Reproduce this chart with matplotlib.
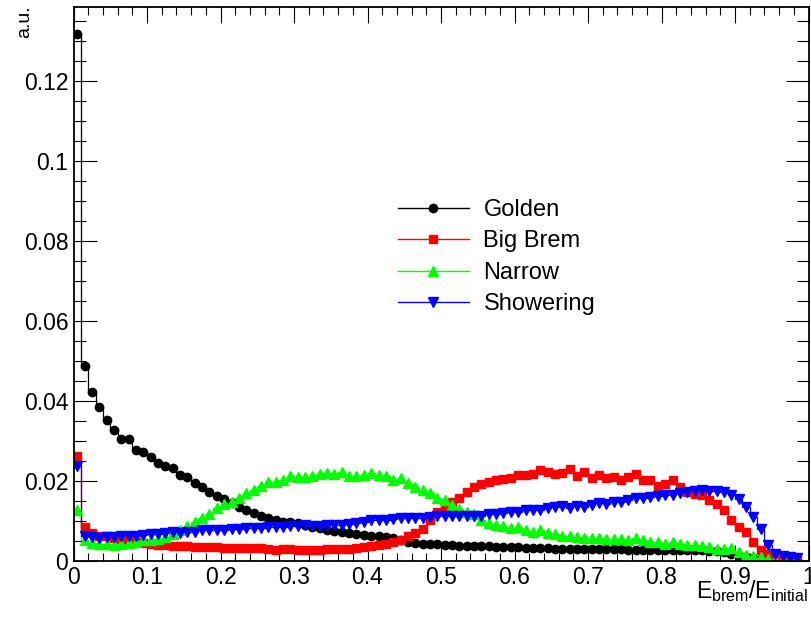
import numpy as np
import matplotlib
matplotlib.use("Agg")
import matplotlib.pyplot as plt
from matplotlib.ticker import MultipleLocator, FuncFormatter
from matplotlib.lines import Line2D

plt.rcParams['font.family'] = ['Liberation Sans', 'DejaVu Sans']
plt.rcParams['mathtext.fontset'] = 'custom'
plt.rcParams['mathtext.rm'] = 'Liberation Sans'

# ---------------- data (100 bins in [0, 1]) ----------------
n_bins = 100
x_lo, x_hi = 0.0, 1.0

labels = ["Golden", "Big Brem", "Narrow", "Showering"]

golden = [0.1317, 0.0488, 0.0423, 0.0384, 0.0353, 0.0328, 0.0305, 0.0305, 0.0278, 0.0273,
          0.0260, 0.0245, 0.0238, 0.0232, 0.0215, 0.0209, 0.0195, 0.0184, 0.0172, 0.0163,
          0.0155, 0.0145, 0.0134, 0.0126, 0.0120, 0.0113, 0.0107, 0.0101, 0.0098, 0.0097,
          0.0095, 0.0090, 0.0085, 0.0081, 0.0078, 0.0075, 0.0072, 0.0070, 0.0067, 0.0065,
          0.0063, 0.0061, 0.0059, 0.0057, 0.0052, 0.0046, 0.0045, 0.0043, 0.0042, 0.0041,
          0.0040, 0.0039, 0.0038, 0.0037, 0.0037, 0.0036, 0.0036, 0.0035, 0.0035, 0.0034,
          0.0034, 0.0033, 0.0032, 0.0031, 0.0031, 0.0030, 0.0030, 0.0030, 0.0030, 0.0030,
          0.0029, 0.0029, 0.0029, 0.0029, 0.0029, 0.0028, 0.0028, 0.0028, 0.0028, 0.0028,
          0.0027, 0.0027, 0.0027, 0.0027, 0.0026, 0.0026, 0.0025, 0.0024, 0.0021, 0.0017,
          0.0013, 0.0009, 0.0006, 0.0004, 0.0002, 0.0001, 0.0, 0.0, 0.0, 0.0]

big_brem = [0.0263, 0.0084, 0.0069, 0.0063, 0.0061, 0.0058, 0.0055, 0.0052, 0.0048, 0.0045,
            0.0043, 0.0040, 0.0039, 0.0038, 0.0038, 0.0037, 0.0035, 0.0034, 0.0034, 0.0034,
            0.0033, 0.0033, 0.0033, 0.0032, 0.0032, 0.0031, 0.0029, 0.0028, 0.0030, 0.0029,
            0.0028, 0.0028, 0.0028, 0.0028, 0.0029, 0.0029, 0.0030, 0.0030, 0.0033, 0.0035,
            0.0037, 0.0040, 0.0043, 0.0047, 0.0053, 0.0063, 0.0070, 0.0080, 0.0101, 0.0122,
            0.0135, 0.0147, 0.0157, 0.0173, 0.0185, 0.0193, 0.0197, 0.0202, 0.0205, 0.0207,
            0.0215, 0.0215, 0.0218, 0.0228, 0.0222, 0.0218, 0.0220, 0.0230, 0.0213, 0.0223,
            0.0207, 0.0215, 0.0207, 0.0209, 0.0203, 0.0209, 0.0218, 0.0201, 0.0201, 0.0188,
            0.0193, 0.0201, 0.0184, 0.0172, 0.0168, 0.0165, 0.0151, 0.0143, 0.0126, 0.0103,
            0.0084, 0.0072, 0.0048, 0.0028, 0.0018, 0.0012, 0.0007, 0.0003, 0.0001, 0.0]

narrow = [0.0126, 0.0051, 0.0045, 0.0043, 0.0043, 0.0040, 0.0043, 0.0045, 0.0047, 0.0051,
          0.0051, 0.0055, 0.0059, 0.0067, 0.0078, 0.0088, 0.0098, 0.0107, 0.0118, 0.0132,
          0.0143, 0.0148, 0.0157, 0.0170, 0.0176, 0.0188, 0.0198, 0.0197, 0.0201, 0.0213,
          0.0209, 0.0209, 0.0212, 0.0218, 0.0220, 0.0218, 0.0222, 0.0213, 0.0212, 0.0215,
          0.0220, 0.0215, 0.0212, 0.0203, 0.0207, 0.0195, 0.0184, 0.0178, 0.0170, 0.0157,
          0.0151, 0.0140, 0.0130, 0.0123, 0.0118, 0.0103, 0.0095, 0.0090, 0.0087, 0.0082,
          0.0084, 0.0076, 0.0072, 0.0076, 0.0070, 0.0067, 0.0063, 0.0062, 0.0059, 0.0057,
          0.0057, 0.0057, 0.0055, 0.0054, 0.0055, 0.0053, 0.0056, 0.0051, 0.0047, 0.0046,
          0.0043, 0.0046, 0.0043, 0.0040, 0.0040, 0.0037, 0.0034, 0.0030, 0.0030, 0.0032,
          0.0022, 0.0015, 0.0012, 0.0009, 0.0005, 0.0003, 0.0002, 0.0001, 0.0, 0.0]

showering = [0.0238, 0.0063, 0.0059, 0.0058, 0.0059, 0.0059, 0.0062, 0.0063, 0.0063, 0.0065,
             0.0067, 0.0067, 0.0070, 0.0072, 0.0070, 0.0073, 0.0073, 0.0076, 0.0076, 0.0078,
             0.0078, 0.0080, 0.0080, 0.0082, 0.0082, 0.0082, 0.0084, 0.0084, 0.0084, 0.0087,
             0.0088, 0.0089, 0.0087, 0.0087, 0.0090, 0.0090, 0.0090, 0.0093, 0.0095, 0.0097,
             0.0101, 0.0102, 0.0102, 0.0105, 0.0106, 0.0106, 0.0108, 0.0106, 0.0109, 0.0112,
             0.0112, 0.0112, 0.0113, 0.0113, 0.0113, 0.0113, 0.0118, 0.0118, 0.0120, 0.0121,
             0.0123, 0.0126, 0.0127, 0.0128, 0.0132, 0.0134, 0.0137, 0.0132, 0.0137, 0.0134,
             0.0140, 0.0145, 0.0143, 0.0147, 0.0148, 0.0153, 0.0157, 0.0157, 0.0159, 0.0161,
             0.0165, 0.0165, 0.0170, 0.0173, 0.0175, 0.0178, 0.0175, 0.0175, 0.0172, 0.0165,
             0.0155, 0.0134, 0.0109, 0.0080, 0.0040, 0.0018, 0.0012, 0.0009, 0.0007, 0.0]

series_values = [golden, big_brem, narrow, showering]
colors = ["#000000", "#ff0000", "#00ff00", "#0000ff"]
markers = ["o", "s", "^", "v"]
marker_sizes = [6.0, 5.6, 6.6, 6.6]

# ---------------- figure ----------------
W, H = 811, 623
fig = plt.figure(figsize=(W / 100, H / 100), dpi=100)
ax_l, ax_r, ax_t, ax_b = 73.5, 808.5, 7.3, 560.7
ax = fig.add_axes([ax_l / W, 1 - ax_b / H, (ax_r - ax_l) / W, (ax_b - ax_t) / H])

edges = np.linspace(x_lo, x_hi, n_bins + 1)
centers = 0.5 * (edges[:-1] + edges[1:])

handles = []
for name, vals, c, m, ms in zip(labels, series_values, colors, markers, marker_sizes):
    v = np.asarray(vals, dtype=float)
    ax.stairs(v, edges, color=c, lw=0.9, baseline=None)
    mask = v > 0
    ax.plot(centers[mask], v[mask], ls="none", marker=m, ms=ms, color=c, mec=c)
    handles.append(Line2D([], [], color=c, lw=1.0, marker=m, ms=ms, mec=c))

ax.set_xlim(x_lo, x_hi)
ax.set_ylim(0, 0.13835)

ax.xaxis.set_major_locator(MultipleLocator(0.1))
ax.xaxis.set_minor_locator(MultipleLocator(0.02))
ax.yaxis.set_major_locator(MultipleLocator(0.02))
ax.yaxis.set_minor_locator(MultipleLocator(0.005))
fmt = FuncFormatter(lambda v, p: f"{v:g}")
ax.xaxis.set_major_formatter(fmt)
ax.yaxis.set_major_formatter(fmt)

ax.tick_params(which="both", direction="in", top=True, right=True, width=0.8)
ax.tick_params(axis="x", which="major", length=11.5, labelsize=16.5, pad=4)
ax.tick_params(axis="x", which="minor", length=5.8)
ax.tick_params(axis="y", which="major", length=16.5, labelsize=16.5, pad=3.7)
ax.tick_params(axis="y", which="minor", length=8.6)
for s in ax.spines.values():
    s.set_linewidth(1.3)

leg = ax.legend(handles, labels, loc="upper left",
                bbox_to_anchor=(398 / W, 1 - 199 / H), bbox_transform=fig.transFigure,
                frameon=False, fontsize=17, handlelength=3.0, handletextpad=0.62,
                labelspacing=0.4, borderpad=0, borderaxespad=0)

fig.text(808 / W, 1 - 598 / H, r"E$_{\mathregular{brem}}$/E$_{\mathregular{initial}}$",
         ha="right", va="baseline", fontsize=16.5)
fig.text(25 / W, 1 - 5 / H, "a.u.", rotation=90, ha="center", va="top", fontsize=14)

fig.savefig("out.png", dpi=100)
